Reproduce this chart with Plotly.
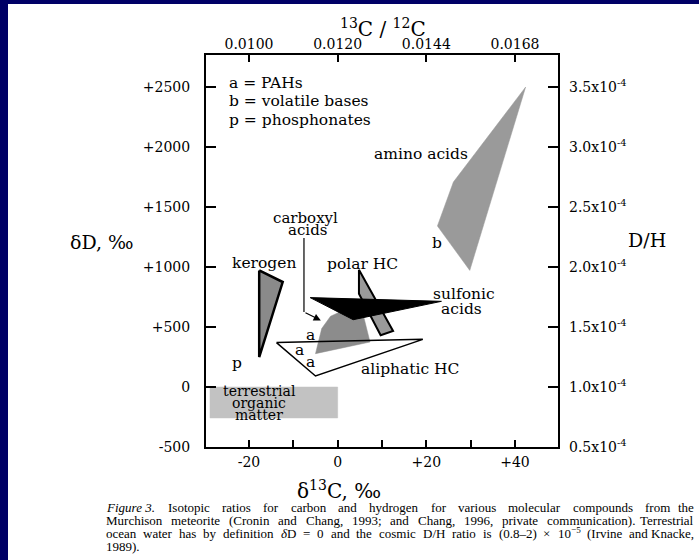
import re
import plotly.graph_objects as go

# Compound-class fields in δ13C (‰) vs δD (‰)
amino_d13c = [42.4, 26.1, 22.5, 29.8]
amino_dD = [2500, 1708, 1342, 972]
kerogen_d13c = [-17.7, -12.4, -17.7]
kerogen_dD = [972, 875, 250]
polar_hc_d13c = [4.8, 12.5, 9.7, 4.8]
polar_hc_dD = [978, 467, 431, 778]
carboxyl_d13c = [-5.0, -3.6, -1.6, 2.0, 5.5, 7.3]
carboxyl_dD = [278, 487, 590, 650, 640, 375]
sulfonic_d13c = [-6.2, 23.4, 3.5]
sulfonic_dD = [745, 714, 561]
aliphatic_d13c = [-13.8, 19.2, -5.0]
aliphatic_dD = [370, 397, 92]
terrestrial_d13c = [-28.8, 0.0]
terrestrial_dD = [-258, 0]
carboxyl_pointer_d13c = [-7.6, -7.6, -3.8]
carboxyl_pointer_dD = [1242, 625, 555]

# Axis ticks
x_ticks = [-20, -10, 0, 10, 20, 30, 40]
x_tick_labels = ["-20", "", "0", "", "+20", "", "+40"]
ratio_ticks = [-20, 0, 20, 40]
ratio_labels = ["0.0100", "0.0120", "0.0144", "0.0168"]
y_ticks = [-500, 0, 500, 1000, 1500, 2000, 2500]
y_tick_labels = ["-500", "0", "+500", "+1000", "+1500", "+2000", "+2500"]
dh_labels = ["0.5", "1.0", "1.5", "2.0", "2.5", "3.0", "3.5"]

# Caption, one list of words per printed line
caption_lines = [
    ["<i>Figure 3.</i> ", "Isotopic", "ratios", "for", "carbon", "and", "hydrogen", "for",
     "various", "molecular", "compounds", "from", "the"],
    ["Murchison", "meteorite", "(Cronin", "and", "Chang,", "1993;", "and", "Chang,", "1996,",
     "private", "communication).", "Terrestrial"],
    ["ocean", "water", "has", "by", "definition", "<i>δ</i>D", "=", "0", "and", "the", "cosmic",
     "D/H", "ratio", "is", "(0.8–2)", "×", "10<sup>−5</sup>", "(Irvine", "and", "Knacke,"],
    ["1989)."],
]

X_RANGE = [-29.7, 49.7]
Y_RANGE = [-500, 2767]
SERIF = "Liberation Serif"
WIDE_SERIF = "DejaVu Serif"

# page geometry (px) for the plot frame
W, H = 699, 560
L, R, T, B = 206, 558, 55, 447


def px(xp):
    return (xp - L) / (R - L)


def py(yp):
    return (B - yp) / (B - T)


fig = go.Figure()


def poly(xs, ys, fill, line_color=None, line_width=0):
    fig.add_trace(go.Scatter(
        x=xs + xs[:1], y=ys + ys[:1], mode="lines", fill="toself",
        fillcolor=fill,
        line=dict(color=line_color or fill, width=line_width if line_width else 0.5),
        hoverinfo="skip", showlegend=False))


# terrestrial organic matter box
tx0, tx1 = terrestrial_d13c
ty0, ty1 = terrestrial_dD
poly([tx0, tx1, tx1, tx0], [ty0, ty0, ty1, ty1], "#c2c2c2")

poly(amino_d13c, amino_dD, "#9a9a9a")
poly(kerogen_d13c, kerogen_dD, "#8a8a8a", "black", 2.5)
poly(carboxyl_d13c, carboxyl_dD, "#8c8c8c")
poly(polar_hc_d13c, polar_hc_dD, "#9a9a9a", "black", 2)
poly(sulfonic_d13c, sulfonic_dD, "black", "black", 1)

# aliphatic HC outline (drawn on top, no fill)
fig.add_trace(go.Scatter(
    x=aliphatic_d13c + aliphatic_d13c[:1], y=aliphatic_dD + aliphatic_dD[:1],
    mode="lines", line=dict(color="black", width=1.5),
    hoverinfo="skip", showlegend=False))

# carboxyl acids pointer line
fig.add_trace(go.Scatter(
    x=carboxyl_pointer_d13c[:2], y=carboxyl_pointer_dD[:2], mode="lines",
    line=dict(color="black", width=1.2), hoverinfo="skip", showlegend=False))

# invisible trace that carries the secondary axes
fig.add_trace(go.Scatter(x=[X_RANGE[0]], y=[Y_RANGE[0]], xaxis="x2", yaxis="y2",
                         mode="markers", marker=dict(opacity=0),
                         hoverinfo="skip", showlegend=False))

ann = []


def label(text, x, y, size=15.5, xanchor="center"):
    ann.append(dict(text=text, x=x, y=y, xref="x", yref="y", showarrow=False,
                    xanchor=xanchor, yanchor="middle",
                    font=dict(family=WIDE_SERIF, size=size, color="black")))


label("amino acids", 29.8, 1940, xanchor="right")
label("b", 22.5, 1197)
label("kerogen", -16.6, 1033)
label("p", -22.6, 200)
label("polar HC", 5.6, 1028)
label("sulfonic", 28.4, 778)
label("acids", 27.9, 653)
label("carboxyl", -7.2, 1408, size=15)
label("acids", -6.8, 1308, size=15)
label("a", -6.1, 431)
label("a", -8.5, 306)
label("a", -6.1, 208)
label("aliphatic HC", 16.3, 153)
label("terrestrial", -17.7, -36, size=14)
label("organic", -17.7, -134, size=14)
label("matter", -17.7, -230, size=14)
label("a = PAHs", -24.9, 2533, xanchor="left")
label("b = volatile bases", -24.9, 2383, xanchor="left")
label("p = phosphonates", -24.9, 2228, xanchor="left")

# arrow head of the carboxyl pointer
ann.append(dict(x=carboxyl_pointer_d13c[2], y=carboxyl_pointer_dD[2],
                ax=carboxyl_pointer_d13c[1], ay=carboxyl_pointer_dD[1],
                xref="x", yref="y", axref="x", ayref="y", text="",
                showarrow=True, arrowhead=2, arrowsize=1.2, arrowwidth=1.2,
                arrowcolor="black"))


def page_text(text, xp, yp, size, xanchor="center", family=WIDE_SERIF):
    ann.append(dict(text=text, x=px(xp), y=py(yp), xref="paper", yref="paper",
                    showarrow=False, xanchor=xanchor, yanchor="middle",
                    font=dict(family=family, size=size, color="black")))


# axis titles
page_text("<sup>13</sup>C / <sup>12</sup>C", 383, 28, 20)
page_text("δ<sup>13</sup>C, ‰", 339, 490, 20)
page_text("δD, ‰", 102, 242, 19)
page_text("D/H", 647, 240, 19)

# Times-style advance widths (per 1000 em) used to set the caption justified
TIMES_W = {" ": 250, "(": 333, ")": 333, ",": 250, ".": 250, ";": 278, "/": 278,
           "=": 564, "–": 500, "−": 564, "×": 564, "δ": 494}
TIMES_W.update({d: 500 for d in "0123456789"})
TIMES_W.update(dict(zip("ABCDEFGHIJKLMNOPQRSTUVWXYZ",
                        [722, 667, 667, 722, 611, 556, 722, 722, 333, 389, 722, 611, 889,
                         722, 722, 556, 722, 667, 556, 611, 722, 722, 944, 722, 722, 611])))
TIMES_W.update(dict(zip("abcdefghijklmnopqrstuvwxyz",
                        [444, 500, 444, 500, 444, 333, 500, 500, 278, 278, 500, 278, 778,
                         500, 500, 500, 500, 333, 389, 278, 500, 500, 722, 500, 500, 444])))


def word_width(word, size):
    total = 0.0
    for m in re.finditer(r"<sup>(.*?)</sup>|(<[^>]+>)|([^<]+)", word):
        if m.group(1) is not None:
            total += sum(TIMES_W.get(c, 500) for c in m.group(1)) / 1000 * size * 0.7
        elif m.group(3) is not None:
            total += sum(TIMES_W.get(c, 500) for c in m.group(3)) / 1000 * size
    return total


CAP_SIZE = 13
CAP_LEFT, CAP_RIGHT = 104, 696
for i, words in enumerate(caption_lines):
    yp = 507 + 13 * i
    if len(words) == 1:
        page_text(words[0], CAP_LEFT, yp, CAP_SIZE, xanchor="left", family=SERIF)
        continue
    widths = [word_width(w, CAP_SIZE) for w in words]
    gap = (CAP_RIGHT - CAP_LEFT - sum(widths)) / (len(words) - 1)
    x = CAP_LEFT
    for j, (w, wd) in enumerate(zip(words, widths)):
        if j == len(words) - 1:
            page_text(w, CAP_RIGHT, yp, CAP_SIZE, xanchor="right", family=SERIF)
        else:
            page_text(w, x, yp, CAP_SIZE, xanchor="left", family=SERIF)
        x += wd + gap

axis_common = dict(showgrid=False, zeroline=False,
                   ticks="inside", tickcolor="black", tickwidth=2,
                   tickfont=dict(family=WIDE_SERIF, size=14, color="black"))

fig.update_layout(
    width=W, height=H,
    margin=dict(l=L, r=W - R, t=T, b=H - B, pad=0),
    paper_bgcolor="white", plot_bgcolor="white",
    showlegend=False,
    xaxis=dict(range=X_RANGE, tickvals=x_ticks, ticktext=x_tick_labels,
               ticklen=7, mirror=True, showline=True, linecolor="black", linewidth=2,
               ticklabelstandoff=1, **axis_common),
    xaxis2=dict(range=X_RANGE, overlaying="x", side="top", anchor="y",
                tickvals=ratio_ticks, ticktext=ratio_labels, ticklen=7,
                showline=False, ticklabelstandoff=2, **axis_common),
    yaxis=dict(range=Y_RANGE, tickvals=y_ticks, ticktext=y_tick_labels,
               ticklen=10, mirror=True, showline=True, linecolor="black", linewidth=2,
               ticklabelstandoff=11, **axis_common),
    yaxis2=dict(range=Y_RANGE, overlaying="y", side="right", anchor="x",
                tickvals=y_ticks,
                ticktext=[f"{v}x10<sup>-4</sup>" for v in dh_labels],
                ticklen=10, showline=False, ticklabelstandoff=10, **axis_common),
    annotations=ann,
    shapes=[
        dict(type="rect", xref="paper", yref="paper", x0=px(0), x1=px(8),
             y0=py(H), y1=py(0), fillcolor="#000066", line=dict(width=0), layer="above"),
        dict(type="rect", xref="paper", yref="paper", x0=px(0), x1=px(W),
             y0=py(4), y1=py(0), fillcolor="#000066", line=dict(width=0), layer="above"),
    ],
)

fig.write_html("out.html")
